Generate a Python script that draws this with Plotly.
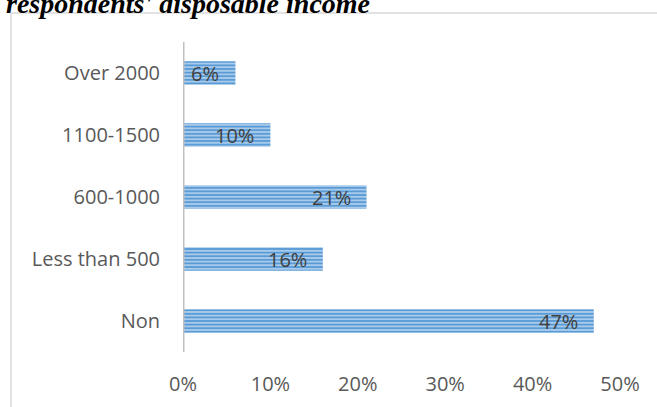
import plotly.graph_objects as go

# Disposable income bands and share of respondents in each
categories = ["Non", "Less than 500", "600-1000", "1100-1500", "Over 2000"]
shares = [0.47, 0.16, 0.21, 0.10, 0.06]
x_ticks = [0, 0.1, 0.2, 0.3, 0.4, 0.5]
x_tick_labels = ["0%", "10%", "20%", "30%", "40%", "50%"]
title_text = "respondents' disposable income"

W, H = 657, 407
ML, MR, MT, MB = 183, 37, 42, 55
PW, PH = W - ML - MR, H - MT - MB
FONT = "Open Sans, Lato, sans-serif"
FS = 20

def px_x(p):
    return (p - ML) / PW

def px_y(p):
    return 1 - (p - MT) / PH

fig = go.Figure(
    go.Bar(
        y=categories,
        x=shares,
        orientation="h",
        width=0.38,
        marker=dict(
            color="#A9CBEB",
            line=dict(width=0),
            pattern=dict(shape="-", size=3.6, solidity=0.55,
                         fgcolor="#5B9BD5", bgcolor="#B0D0EE", fillmode="replace"),
        ),
        hoverinfo="skip",
    )
)

# value labels sitting just inside the end of each bar
annotations = [
    dict(x=v, y=c, xref="x", yref="y", text=f"{round(v * 100)}%",
         xanchor="right", yanchor="middle", xshift=-14, showarrow=False,
         font=dict(family=FONT, size=FS, color="#404040"))
    for c, v in zip(categories, shares)
]
annotations.append(
    dict(text=f"<b><i>{title_text}</i></b>", xref="paper", yref="paper",
         x=px_x(372), y=px_y(21), xanchor="right", yanchor="bottom",
         showarrow=False, font=dict(family="Liberation Serif, serif", size=28, color="black"))
)

fig.update_layout(
    width=W,
    height=H,
    margin=dict(l=ML, r=MR, t=MT, b=MB, autoexpand=False),
    paper_bgcolor="white",
    plot_bgcolor="white",
    showlegend=False,
    font=dict(family=FONT, size=FS, color="#595959"),
    xaxis=dict(
        range=[0, 0.5],
        tickvals=x_ticks,
        ticktext=x_tick_labels,
        showgrid=False,
        zeroline=False,
        showline=False,
        automargin=False,
        ticks="outside",
        ticklen=14,
        tickcolor="rgba(0,0,0,0)",
        tickfont=dict(family=FONT, size=FS, color="#595959"),
    ),
    yaxis=dict(
        range=[-0.5, 4.5],
        showgrid=False,
        zeroline=False,
        showline=False,
        automargin=False,
        ticks="outside",
        ticklen=18,
        tickcolor="rgba(0,0,0,0)",
        tickfont=dict(family=FONT, size=FS, color="#595959"),
    ),
    shapes=[
        # vertical category axis line
        dict(type="line", xref="x", yref="paper", x0=0, x1=0, y0=0, y1=1,
             line=dict(color="#BFBFBF", width=3)),
        # chart frame (left and top edges)
        dict(type="line", xref="paper", yref="paper", x0=px_x(11), x1=px_x(11),
             y0=px_y(13), y1=px_y(410), line=dict(color="#D9D9D9", width=1.5)),
        dict(type="line", xref="paper", yref="paper", x0=px_x(11), x1=px_x(660),
             y0=px_y(13), y1=px_y(13), line=dict(color="#D9D9D9", width=1.5)),
    ],
    annotations=annotations,
)

fig.write_html("out.html")
